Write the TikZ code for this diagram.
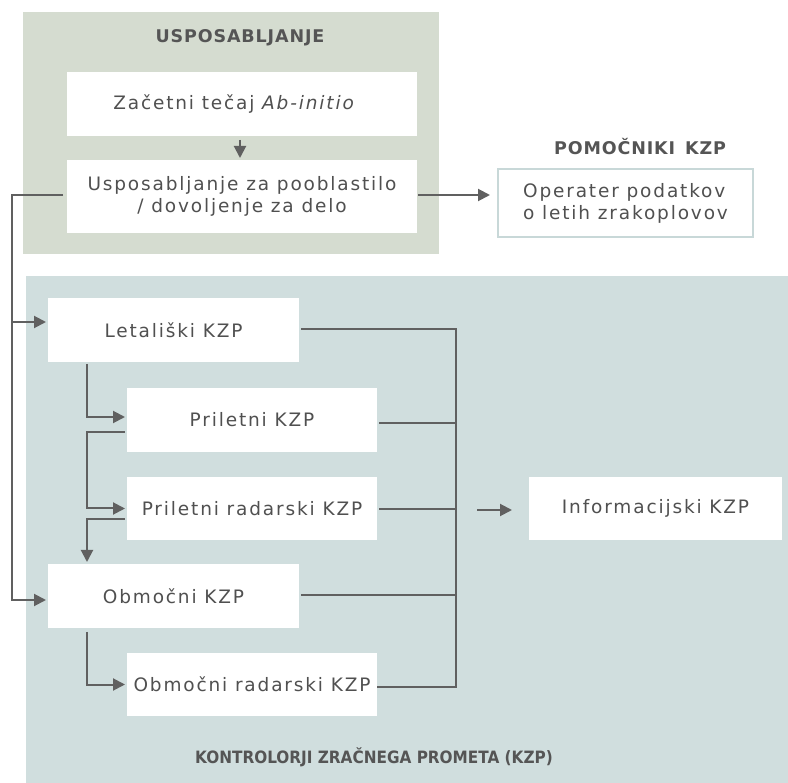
\documentclass[tikz,border=0pt]{standalone}
\usepackage{fontspec}
\setmainfont[LetterSpace=10]{DejaVu Sans}
\newfontfamily\titlefont[LetterSpace=5]{DejaVu Sans Bold}
\newfontfamily\condtitle{DejaVu Sans Condensed Bold}
\usetikzlibrary{arrows.meta,calc}
\definecolor{grnbg}{HTML}{D5DCD0}
\definecolor{bluebg}{HTML}{D0DEDE}
\definecolor{opborder}{HTML}{C8D8D8}
\definecolor{txt}{HTML}{505050}
\definecolor{ttl}{HTML}{555555}
\definecolor{ln}{HTML}{606060}
\tikzset{
  region/.style={inner sep=0pt, outer sep=0pt},
  whitebox/.style={fill=white, inner sep=0pt, outer sep=0pt, text=txt, align=center,
    font=\fontsize{18.5}{22}\selectfont},
  ttlnode/.style={text=ttl, inner sep=0pt, font=\titlefont\fontsize{17.5}{21}\selectfont},
  conn/.style={draw=ln, line width=2pt},
  arr/.style={conn, -{Triangle[length=12pt,width=12pt]}},
}
\begin{document}
\begin{tikzpicture}[x=1pt,y=-1pt]
\useasboundingbox (0,0) rectangle (788,783);
% regions
\node[region, fill=grnbg, minimum width=416pt, minimum height=242pt] (train) at (231,133) {};
\node[region, fill=bluebg, minimum width=762pt, minimum height=507pt] (atc) at (407,529.5) {};
% titles
\node[ttlnode] (ttrain) at (240,38) {USPOSABLJANJE};
\node[ttlnode] (tpom) at (640,147) {POMOČNIKI\hspace{3pt} KZP};
\node[text=ttl, inner sep=0pt, font=\condtitle\fontsize{17}{21}\selectfont] (tatc) at (374,757) {KONTROLORJI ZRAČNEGA PROMETA (KZP)};
% training boxes
\node[whitebox, minimum width=350pt, minimum height=64pt] (b1) at (242,104) {Začetni tečaj \textit{Ab-initio}\hspace{15pt}};
\node[whitebox, minimum width=350pt, minimum height=73pt] (b2) at (242,196.5) {Usposabljanje za pooblastilo\\/ dovoljenje za delo};
\node[whitebox, draw=opborder, line width=1.5pt, minimum width=255pt, minimum height=68pt, align=left] (op) at (625.5,203) {Operater podatkov\\o letih zrakoplovov};
% ATC boxes
\node[whitebox, minimum width=251pt, minimum height=64pt] (let) at (173.5,330) {Letališki KZP};
\node[whitebox, minimum width=250pt, minimum height=64pt] (pril) at (252,420) {Priletni KZP};
\node[whitebox, minimum width=250pt, minimum height=63pt] (prad) at (252,508.5) {Priletni radarski KZP};
\node[whitebox, minimum width=251pt, minimum height=64pt] (obm) at (173.5,596) {Območni KZP};
\node[whitebox, minimum width=250pt, minimum height=63pt] (orad) at (252,684.5) {Območni radarski KZP};
\node[whitebox, minimum width=253pt, minimum height=63pt] (info) at (655.5,508.5) {Informacijski KZP};
% connectors in training
\draw[arr] ($(b1.south)+(-2,4)$) -- ($(b2.north)+(-2,-2)$);
\draw[arr] ($(b2.east)+(1,-1.5)$) -- ($(op.west)+(-8,-8)$);
% left trunk
\coordinate (trunktop) at ($(b2.west)+(-55,-1.5)$);
\draw[arr] ($(b2.west)+(-4,-1.5)$) -- (trunktop) |- ($(obm.west)+(-2,4)$);
\draw[arr] ($(trunktop)+(0,127)$) -- ($(let.west)+(-2,-8)$);
% cascade
\draw[arr] ($(let.south west)+(39,2)$) |- ($(pril.west)+(-2,-3)$);
\draw[arr] ($(pril.west)+(-2,12)$) -- ($(pril.west)+(-40,12)$) |- ($(prad.west)+(-2,0)$);
\draw[arr] ($(prad.west)+(-2,10.5)$) -- ($(prad.west)+(-40,10.5)$) -- ($(obm.north west)+(39,-2)$);
\draw[arr] ($(obm.south west)+(39,4)$) |- ($(orad.west)+(-2,0)$);
% right bus
\coordinate (bustop) at ($(let.east)+(157,-1)$);
\coordinate (busbot) at ($(orad.east)+(79,2.5)$);
\draw[conn] ($(let.east)+(2,-1)$) -- (bustop) -- (busbot) -- ($(orad.east)+(0,2.5)$);
\draw[conn] ($(pril.east)+(2,3)$) -- (bustop |- {$(pril.east)+(2,3)$});
\draw[conn] ($(prad.east)+(2,0.5)$) -- (bustop |- {$(prad.east)+(2,0.5)$});
\draw[conn] ($(obm.east)+(2,-1)$) -- (bustop |- {$(obm.east)+(2,-1)$});
\draw[arr] ($(info.west)+(-52,1.5)$) -- ($(info.west)+(-17,1.5)$);
\end{tikzpicture}
\end{document}
